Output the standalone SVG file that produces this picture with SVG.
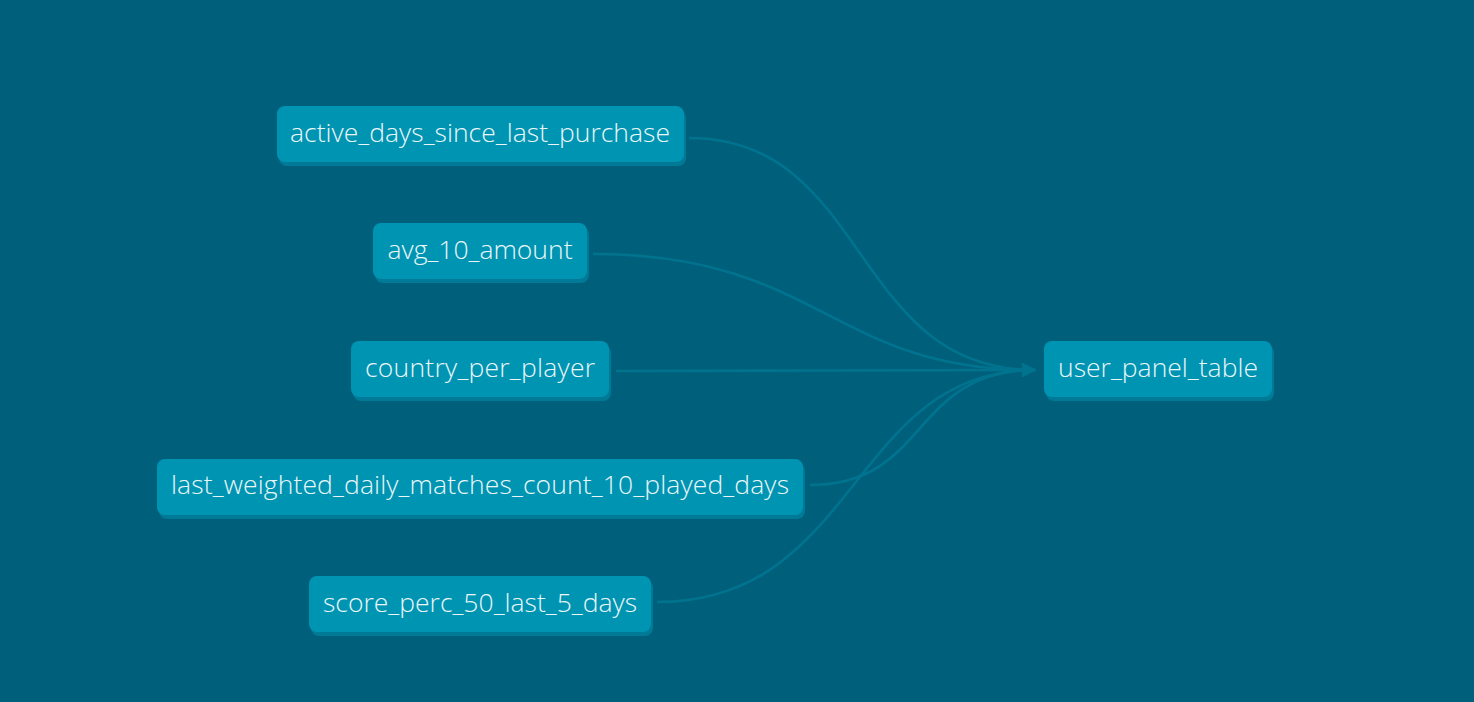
<svg xmlns="http://www.w3.org/2000/svg" width="1474" height="702" viewBox="0 0 1474 702">
<defs>
<style>
.bg{fill:#005f7b}
.sh{fill:#007a96}
.box{fill:#0094b3}
.lbl{font-family:"Open Sans","Noto Sans",sans-serif;font-size:26.5px;font-weight:300;fill:#eaf6f8;text-anchor:middle;dominant-baseline:central}
.edge{fill:none;stroke:#00738f;stroke-width:2.6}
</style>
<marker id="arr" viewBox="0 0 10 10" refX="9" refY="5" markerWidth="5.5" markerHeight="5.5" orient="auto" markerUnits="strokeWidth">
<path d="M0,0 L10,5 L0,10 z" fill="#00738f"/>
</marker>
</defs>
<rect class="bg" x="0" y="0" width="1474" height="702"/>
<g id="connectors">
<path class="edge" d="M689,138 C870,138 850,370 1035,370" marker-end="url(#arr)"/>
<path class="edge" d="M593,254 C820,254 830,370 1035,370" marker-end="url(#arr)"/>
<path class="edge" d="M616,371 C820,371 830,370 1035,370" marker-end="url(#arr)"/>
<path class="edge" d="M810,485 C930,485 910,370 1035,370" marker-end="url(#arr)"/>
<path class="edge" d="M657,602 C860,602 850,370 1035,370" marker-end="url(#arr)"/>
</g>
<g id="active_days_since_last_purchase">
<rect class="sh" x="279" y="110" width="407" height="56" rx="8"/>
<rect class="box" x="277" y="106" width="407" height="56" rx="8"/>
<text class="lbl" x="480" y="132" textLength="380">active_days_since_last_purchase</text>
</g>
<g id="avg_10_amount">
<rect class="sh" x="375" y="227" width="214" height="56" rx="8"/>
<rect class="box" x="373" y="223" width="214" height="56" rx="8"/>
<text class="lbl" x="480" y="249" textLength="185">avg_10_amount</text>
</g>
<g id="country_per_player">
<rect class="sh" x="353" y="345" width="258" height="56" rx="8"/>
<rect class="box" x="351" y="341" width="258" height="56" rx="8"/>
<text class="lbl" x="480" y="367" textLength="230">country_per_player</text>
</g>
<g id="last_weighted_daily_matches_count_10_played_days">
<rect class="sh" x="159" y="463" width="646" height="56" rx="8"/>
<rect class="box" x="157" y="459" width="646" height="56" rx="8"/>
<text class="lbl" x="480" y="484" textLength="618">last_weighted_daily_matches_count_10_played_days</text>
</g>
<g id="score_perc_50_last_5_days">
<rect class="sh" x="311" y="580" width="342" height="56" rx="8"/>
<rect class="box" x="309" y="576" width="342" height="56" rx="8"/>
<text class="lbl" x="480" y="602" textLength="314">score_perc_50_last_5_days</text>
</g>
<g id="user_panel_table">
<rect class="sh" x="1046" y="345" width="228" height="56" rx="8"/>
<rect class="box" x="1044" y="341" width="228" height="56" rx="8"/>
<text class="lbl" x="1158" y="367" textLength="200">user_panel_table</text>
</g>
</svg>
